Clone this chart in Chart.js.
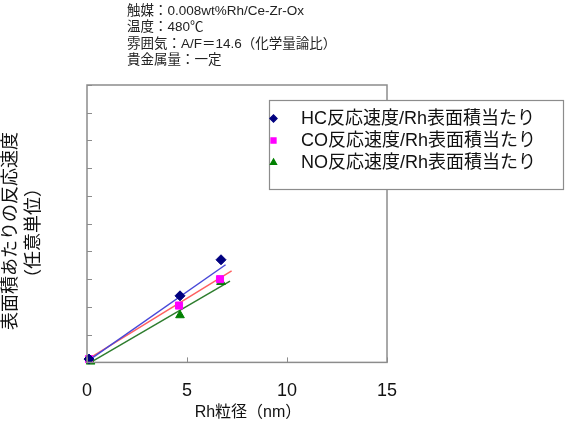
<!DOCTYPE html>
<html>
<head>
<meta charset="utf-8">
<script src="https://cdn.jsdelivr.net/npm/chart.js@4.4.1/dist/chart.umd.min.js"></script>
<style>
html,body{margin:0;padding:0;background:#fff;}
#wrap{width:570px;height:428px;}
</style>
</head>
<body>
<div id="wrap"><canvas id="c" width="570" height="428"></canvas></div>
<script>
// ---- data ----
const seriesLabels = ['HC反応速度/Rh表面積当たり', 'CO反応速度/Rh表面積当たり', 'NO反応速度/Rh表面積当たり'];
const hcX = [0.1, 4.65, 6.7];
const hcY = [0.12, 2.4, 3.7];
const coX = [0.1, 4.6, 6.65];
const coY = [0.12, 2.05, 3.0];
const noX = [0.18, 4.65, 6.7];
const noY = [0.03, 1.7, 2.9];
// approximate trend lines (start / end)
const hcFitX = [0.07, 6.93];
const hcFitY = [0.06, 3.52];
const coFitX = [0.05, 7.23];
const coFitY = [0.12, 3.30];
const noFitX = [0.18, 7.15];
const noFitY = [0.0, 2.93];
const xTicks = [0, 5, 10, 15];
const noteLines = ['触媒：0.008wt%Rh/Ce-Zr-Ox', '温度：480℃', '雰囲気：A/F＝14.6（化学量論比）', '貴金属量：一定'];
const xTitle = 'Rh粒径（nm）';
const yTitle = ['表面積あたりの反応速度', '（任意単位）'];

const pts = (xs, ys) => xs.map((x, i) => ({x: x, y: ys[i]}));
const FONT = '"Liberation Sans", Arial, "Noto Sans CJK JP", sans-serif';

const decorPlugin = {
  id: 'decor',
  afterDraw(chart) {
    const ctx = chart.ctx;
    const a = chart.chartArea;
    const xs = chart.scales.x, ys = chart.scales.y;
    ctx.save();
    // frame
    ctx.strokeStyle = '#8c8c8c';
    ctx.lineWidth = 1.5;
    ctx.strokeRect(a.left, a.top, a.right - a.left, a.bottom - a.top);
    // inside tick marks
    ctx.lineWidth = 1;
    ctx.beginPath();
    ys.ticks.forEach(t => {
      const y = Math.round(ys.getPixelForValue(t.value)) + 0.5;
      ctx.moveTo(a.left, y); ctx.lineTo(a.left + 5, y);
    });
    xs.ticks.forEach(t => {
      const x = Math.round(xs.getPixelForValue(t.value)) + 0.5;
      ctx.moveTo(x, a.bottom); ctx.lineTo(x, a.bottom - 5);
    });
    ctx.stroke();

    // note text
    ctx.fillStyle = '#222';
    ctx.font = '13.5px ' + FONT;
    ctx.textBaseline = 'middle';
    ctx.textAlign = 'left';
    noteLines.forEach((s, i) => ctx.fillText(s, 127, 11 + i * 16.5));

    // x title
    ctx.fillStyle = '#111';
    ctx.font = '16px ' + FONT;
    ctx.textAlign = 'center';
    ctx.fillText(xTitle, 248, 413);

    // y title
    ctx.font = '18px ' + FONT;
    ctx.save();
    ctx.translate(11, 231);
    ctx.rotate(-Math.PI / 2);
    ctx.fillText(yTitle[0], 0, 0);
    ctx.restore();
    ctx.save();
    ctx.translate(34, 233);
    ctx.rotate(-Math.PI / 2);
    ctx.fillText(yTitle[1], 0, 0);
    ctx.restore();

    // legend box
    const bx = 269, by = 100, bw = 294, bh = 89;
    ctx.fillStyle = '#fff';
    ctx.fillRect(bx, by, bw, bh);
    ctx.strokeStyle = '#8c8c8c';
    ctx.lineWidth = 1.2;
    ctx.strokeRect(bx + 0.5, by + 0.5, bw, bh);
    ctx.font = '18px ' + FONT;
    ctx.textAlign = 'left';
    ctx.fillStyle = '#111';
    for (let i = 0; i < 3; i++) {
      const ds = chart.data.datasets[i];
      const yy = 118.5 + i * 22;
      ctx.fillStyle = ds.pointBackgroundColor;
      ctx.strokeStyle = ds.pointBackgroundColor;
      Chart.helpers.drawPoint(ctx, {pointStyle: ds.pointStyle, radius: 3.6, rotation: 0, borderWidth: 1}, 273.5, yy);
      ctx.fillStyle = '#111';
      ctx.fillText(ds.label, 301, yy + 1);
    }
    ctx.restore();
  }
};

new Chart(document.getElementById('c'), {
  type: 'scatter',
  data: {
    datasets: [
      {label: seriesLabels[0], data: pts(hcX, hcY), pointStyle: 'rectRot', pointRadius: 5, pointBackgroundColor: '#00007f', pointBorderColor: '#00007f', showLine: false, clip: false, order: 1},
      {label: seriesLabels[1], data: pts(coX, coY), pointStyle: 'rect', pointRadius: 5, pointBackgroundColor: '#ff00ff', pointBorderColor: '#ff00ff', showLine: false, clip: false, order: 1},
      {label: seriesLabels[2], data: pts(noX, noY), pointStyle: 'triangle', pointRadius: 5, pointBackgroundColor: '#008000', pointBorderColor: '#008000', showLine: false, clip: false, order: 1},
      {label: 'HC fit', data: pts(hcFitX, hcFitY), showLine: true, pointRadius: 0, borderColor: '#4848d8', borderWidth: 1.5, clip: false, order: 2},
      {label: 'CO fit', data: pts(coFitX, coFitY), showLine: true, pointRadius: 0, borderColor: '#ff6060', borderWidth: 1.5, clip: false, order: 2},
      {label: 'NO fit', data: pts(noFitX, noFitY), showLine: true, pointRadius: 0, borderColor: '#2e7d2e', borderWidth: 1.5, clip: false, order: 2}
    ]
  },
  options: {
    responsive: false,
    animation: false,
    layout: {padding: {left: 87, right: 183, top: 85, bottom: 8}},
    plugins: {legend: {display: false}, tooltip: {enabled: false}, title: {display: false}},
    scales: {
      x: {
        type: 'linear', min: 0, max: 15,
        afterBuildTicks: s => { s.ticks = xTicks.map(v => ({value: v})); },
        grid: {display: false, drawTicks: false},
        border: {display: false},
        ticks: {padding: 18, color: '#111', font: {size: 18, family: FONT}}
      },
      y: {
        type: 'linear', min: 0, max: 10,
        ticks: {display: false, stepSize: 1},
        grid: {display: false, drawTicks: false},
        border: {display: false}
      }
    }
  },
  plugins: [decorPlugin]
});
</script>
</body>
</html>
